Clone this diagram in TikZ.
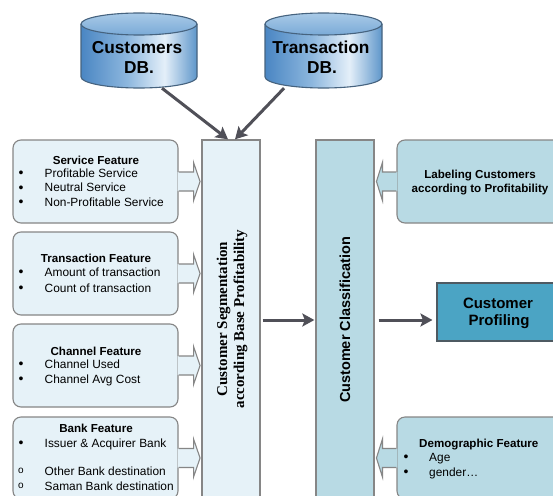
\documentclass[tikz,border=0pt]{standalone}
\usepackage{fontspec}
\setmainfont{Liberation Sans}
\newfontfamily\segserif{Liberation Serif}
\usetikzlibrary{arrows.meta,calc}
\definecolor{boxlight}{HTML}{E6F2F8}
\definecolor{boxmid}{HTML}{B8DAE4}
\definecolor{boxdark}{HTML}{4BA4C4}
\definecolor{edgegray}{HTML}{868686}
\definecolor{arrowgray}{HTML}{505058}
\definecolor{profedge}{HTML}{4E5A62}
\definecolor{cylA}{HTML}{4A86C3}
\definecolor{cylB}{HTML}{8DB7DE}
\definecolor{cylC}{HTML}{E4EFF9}
\definecolor{cylD}{HTML}{5E96CA}
\definecolor{cylTopA}{HTML}{A9CAE7}
\definecolor{cylTopB}{HTML}{7AAAD7}
\definecolor{cylEdge}{HTML}{46637F}
\pgfdeclarehorizontalshading{cylbodyshade}{100bp}{color(0bp)=(cylA); color(25bp)=(cylA); color(45bp)=(cylB); color(61bp)=(cylC); color(75bp)=(cylD); color(100bp)=(cylD)}
\tikzset{
  featbox/.style={draw=edgegray, fill=boxlight, line width=1.1pt, rounded corners=8pt, inner sep=0pt},
  midbox/.style={draw=edgegray, fill=boxmid, line width=1.1pt, rounded corners=8pt, inner sep=0pt},
  segbox/.style={draw=edgegray, fill=boxlight, line width=1.3pt, inner sep=0pt},
  classbox/.style={draw=edgegray, fill=boxmid, line width=1.3pt, inner sep=0pt},
  profbox/.style={draw=profedge, fill=boxdark, line width=1.1pt, inner sep=0pt},
  ghost/.style={draw=none, inner sep=0pt},
  cylline/.style={draw=cylEdge, line width=1.1pt},
  edgeline/.style={draw=edgegray, line width=1.1pt, line join=miter},
  flowarrow/.style={draw=arrowgray, line width=3pt, -{Stealth[length=12pt,width=13pt,inset=2.5pt]}},
  ftitle/.style={font=\bfseries\fontsize{11.6}{13}\selectfont, inner sep=0pt, anchor=base},
  fitem/.style={font=\fontsize{11.9}{13}\selectfont, inner sep=0pt, anchor=base west},
  fbullet/.style={font=\fontsize{14}{14}\selectfont, inner sep=0pt, anchor=base},
  fcircle/.style={font=\fontsize{10}{10}\selectfont, inner sep=0pt, anchor=base},
  cyltext/.style={font=\bfseries\fontsize{17.3}{21}\selectfont, inner sep=0pt, anchor=base},
  proftext/.style={font=\bfseries\fontsize{15}{18}\selectfont, inner sep=0pt, anchor=base},
}
\newcommand{\featarrowR}[1]{%
  \fill[boxlight] ([shift={(-1,9.5)}]#1.east) -- ++(16,0) -- ++(0,9.5) -- ++(6.5,-19) -- ++(-6.5,-19) -- ++(0,9.5) -- ++(-16,0) -- cycle;
  \draw[edgeline] ([shift={(0,9.5)}]#1.east) -- ++(15,0) -- ++(0,9.5) -- ++(6.5,-19) -- ++(-6.5,-19) -- ++(0,9.5) -- ++(-15,0);
}
\newcommand{\featarrowL}[1]{%
  \fill[boxmid] ([shift={(1,9.5)}]#1.west) -- ++(-15,0) -- ++(0,9.5) -- ++(-6,-19) -- ++(6,-19) -- ++(0,9.5) -- ++(15,0) -- cycle;
  \draw[edgeline] ([shift={(0,9.5)}]#1.west) -- ++(-14,0) -- ++(0,9.5) -- ++(-6,-19) -- ++(6,-19) -- ++(0,9.5) -- ++(14,0);
}
\begin{document}
\begin{tikzpicture}[x=1pt,y=1pt]
\useasboundingbox (0,0) rectangle (553,-495);
\clip (0,0) rectangle (553,-495);
\fill[white] (0,0) rectangle (553,-495);

% ---------- databases ----------
\shade[shading=cylbodyshade] (81,-24) -- (81,-77) arc[start angle=180,end angle=360,x radius=58pt,y radius=11pt] -- (197,-24) -- cycle;
\draw[cylline] (81,-24) -- (81,-77) arc[start angle=180,end angle=360,x radius=58pt,y radius=11pt] -- (197,-24);
\shade[top color=cylTopA, bottom color=cylTopB] (139,-24) ellipse[x radius=58pt, y radius=11pt];
\draw[cylline] (139,-24) ellipse[x radius=58pt, y radius=11pt];
\node[ghost, minimum width=116pt, minimum height=75pt] (custdb) at (139,-50.5) {};
\node[cyltext] (custl1) at (137,-53) {Customers};
\node[cyltext] (custl2) at (139,-74) {DB.};

\shade[shading=cylbodyshade] (265,-24) -- (265,-77) arc[start angle=180,end angle=360,x radius=58.5pt,y radius=11pt] -- (382,-24) -- cycle;
\draw[cylline] (265,-24) -- (265,-77) arc[start angle=180,end angle=360,x radius=58.5pt,y radius=11pt] -- (382,-24);
\shade[top color=cylTopA, bottom color=cylTopB] (323.5,-24) ellipse[x radius=58.5pt, y radius=11pt];
\draw[cylline] (323.5,-24) ellipse[x radius=58.5pt, y radius=11pt];
\node[ghost, minimum width=117pt, minimum height=75pt] (trandb) at (323.5,-50.5) {};
\node[cyltext] (tranl1) at (321,-53) {Transaction};
\node[cyltext] (tranl2) at (322,-74) {DB.};

% ---------- central columns ----------
\node[segbox, minimum width=58pt, minimum height=360pt] (seg) at (231,-320) {};
\node[font=\segserif\bfseries\fontsize{15}{17}\selectfont, rotate=90, align=center, inner sep=0pt] (segtxt) at (232,-319) {Customer Segmentation\\according Base Profitability};

\node[classbox, minimum width=58pt, minimum height=360pt] (class) at (345,-320) {};
\node[font=\bfseries\fontsize{14.5}{17}\selectfont, rotate=90, inner sep=0pt] (classtxt) at (345,-320) {Customer Classification};

\node[profbox, minimum width=130pt, minimum height=58pt] (prof) at (502,-312) {};
\node[proftext] (prof1) at (498,-308) {Customer};
\node[proftext] (prof2) at (499,-325) {Profiling};

% ---------- left feature boxes ----------
\node[featbox, minimum width=165pt, minimum height=83pt] (svc) at (95.5,-181.5) {};
\featarrowR{svc}
\node[ftitle] (svct) at (96,-164) {Service Feature};
\node[fbullet] (svcb1) at (21,-177.5) {•};
\node[fitem] (svc1) at (44.5,-177) {Profitable Service};
\node[fbullet] (svcb2) at (21,-192) {•};
\node[fitem] (svc2) at (44.5,-191.5) {Neutral Service};
\node[fbullet] (svcb3) at (21,-206.5) {•};
\node[fitem] (svc3) at (44.5,-206) {Non-Profitable Service};

\node[featbox, minimum width=165pt, minimum height=83pt] (trn) at (95.5,-273.5) {};
\featarrowR{trn}
\node[ftitle] (trnt) at (96,-262) {Transaction Feature};
\node[fbullet] (trnb1) at (21,-276.5) {•};
\node[fitem] (trn1) at (44.5,-276) {Amount of transaction};
\node[fbullet] (trnb2) at (21,-292.5) {•};
\node[fitem] (trn2) at (44.5,-292) {Count of transaction};

\node[featbox, minimum width=165pt, minimum height=83pt] (chn) at (95.5,-365.5) {};
\featarrowR{chn}
\node[ftitle] (chnt) at (96,-355) {Channel Feature};
\node[fbullet] (chnb1) at (21,-368.5) {•};
\node[fitem] (chn1) at (44.5,-368) {Channel Used};
\node[fbullet] (chnb2) at (21,-383.5) {•};
\node[fitem] (chn2) at (44.5,-383) {Channel Avg Cost};

\node[featbox, minimum width=165pt, minimum height=82pt] (bnk) at (95.5,-458) {};
\featarrowR{bnk}
\node[ftitle] (bnkt) at (96,-432) {Bank Feature};
\node[fbullet] (bnkb1) at (21,-447.5) {•};
\node[fitem] (bnk1) at (44.5,-447) {Issuer \& Acquirer Bank};
\node[fcircle] (bnkb2) at (21,-473.5) {o};
\node[fitem] (bnk2) at (44.5,-475) {Other Bank destination};
\node[fcircle] (bnkb3) at (21,-488.5) {o};
\node[fitem] (bnk3) at (44.5,-490) {Saman Bank destination};

% ---------- right feature boxes ----------
\node[midbox, minimum width=170pt, minimum height=83pt] (lab) at (482,-181.5) {};
\featarrowL{lab}
\node[ftitle] (lab1) at (480,-178) {Labeling Customers};
\node[ftitle] (lab2) at (480,-192) {according to Profitability};

\node[midbox, minimum width=170pt, minimum height=82pt] (demo) at (482,-458) {};
\featarrowL{demo}
\node[ftitle, anchor=base west] (demot) at (419,-447) {Demographic Feature};
\node[fbullet] (demob1) at (406,-461.5) {•};
\node[fitem] (demo1) at (429,-461) {Age};
\node[fbullet] (demob2) at (406,-476.5) {•};
\node[fitem] (demo2) at (429,-476) {gender…};

% ---------- connectors ----------
\draw[flowarrow] ([xshift=23pt]custdb.south) -- ([xshift=-3pt]seg.north);
\draw[flowarrow] ([xshift=-39.5pt]trandb.south) -- ([xshift=4pt]seg.north);
\draw[flowarrow] ([xshift=2pt]seg.east) -- ([xshift=-1pt]seg.east -| class.west);
\draw[flowarrow] ([xshift=4pt]class.east) -- ([xshift=-4pt]class.east -| prof.west);
\end{tikzpicture}
\end{document}
